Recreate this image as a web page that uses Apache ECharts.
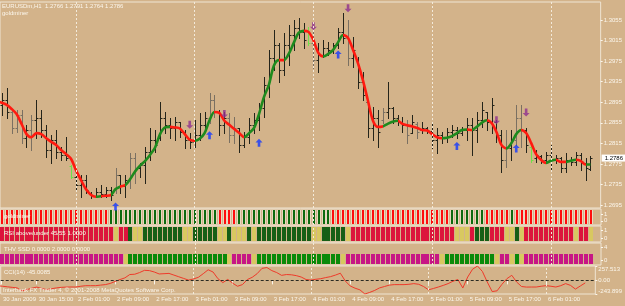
<!DOCTYPE html>
<html>
<head>
<meta charset="utf-8">
<script src="https://cdn.jsdelivr.net/npm/echarts@6/dist/echarts.min.js"></script>
<style>
html, body { margin: 0; padding: 0; background: #D3B38A; }
#main { width: 625px; height: 306px; }
</style>
</head>
<body>
<div id="main"></div>
<script>
// EURUSDm H1 – bars, trend MA, signals and three state panels + CCI
var chart = echarts.init(document.getElementById('main'));

var symbolText = 'EURUSDm,H1  1.2766 1.2791 1.2764 1.2786';
var dateLabels = ['30 Jan 2009', '30 Jan 15:00', '2 Feb 01:00', '2 Feb 09:00', '2 Feb 17:00', '3 Feb 01:00',
    '3 Feb 09:00', '3 Feb 17:00', '4 Feb 01:00', '4 Feb 09:00', '4 Feb 17:00', '5 Feb 01:00',
    '5 Feb 09:00', '5 Feb 17:00', '6 Feb 01:00'];
var labelBars = [0.7, 8, 16, 24, 32, 40, 48, 56, 64, 72, 80, 88, 96, 104, 112];
var daySeparators = [16, 40, 64, 88, 112];
var priceTicks = [1.2695, 1.2735, 1.2775, 1.2815, 1.2855, 1.2895, 1.2935, 1.2975, 1.3015, 1.3055];
var lastPrice = 1.2786;

var opens = [1.2899, 1.2890, 1.2899, 1.2876, 1.2845, 1.2870, 1.2825, 1.2841, 1.2860, 1.2864,
    1.2841, 1.2802, 1.2822, 1.2798, 1.2792, 1.2771, 1.2750, 1.2734, 1.2744, 1.2718,
    1.2713, 1.2720, 1.2716, 1.2724, 1.2724, 1.2753, 1.2732, 1.2744, 1.2787, 1.2767,
    1.2773, 1.2798, 1.2822, 1.2825, 1.2864, 1.2851, 1.2845, 1.2857, 1.2837, 1.2822,
    1.2818, 1.2831, 1.2851, 1.2864, 1.2899, 1.2876, 1.2851, 1.2864, 1.2831, 1.2845,
    1.2812, 1.2827, 1.2851, 1.2860, 1.2884, 1.2929, 1.2981, 1.3006, 1.2958, 1.3006,
    1.3026, 1.3040, 1.3032, 1.3036, 1.3010, 1.2977, 1.2987, 1.3001, 1.2997, 1.3006,
    1.3032, 1.3020, 1.2981, 1.2977, 1.2934, 1.2896, 1.2845, 1.2864, 1.2860, 1.2876,
    1.2884, 1.2864, 1.2857, 1.2851, 1.2835, 1.2853, 1.2841, 1.2845, 1.2839, 1.2822,
    1.2831, 1.2825, 1.2837, 1.2841, 1.2835, 1.2841, 1.2851, 1.2841, 1.2860, 1.2876,
    1.2857, 1.2857, 1.2831, 1.2783, 1.2806, 1.2822, 1.2864, 1.2841, 1.2808, 1.2787,
    1.2790, 1.2783, 1.2792, 1.2783, 1.2787, 1.2767, 1.2783, 1.2779, 1.2792, 1.2777,
    1.2766];
var highs = [1.2909, 1.2913, 1.2923, 1.2880, 1.2880, 1.2880, 1.2851, 1.2870, 1.2899, 1.2880,
    1.2851, 1.2831, 1.2841, 1.2808, 1.2827, 1.2773, 1.2757, 1.2753, 1.2753, 1.2720,
    1.2728, 1.2734, 1.2730, 1.2730, 1.2767, 1.2753, 1.2753, 1.2796, 1.2796, 1.2777,
    1.2808, 1.2845, 1.2841, 1.2896, 1.2876, 1.2864, 1.2866, 1.2857, 1.2841, 1.2835,
    1.2860, 1.2874, 1.2876, 1.2913, 1.2909, 1.2880, 1.2876, 1.2874, 1.2866, 1.2845,
    1.2837, 1.2864, 1.2874, 1.2894, 1.2944, 1.2997, 1.3036, 1.3010, 1.3030, 1.3045,
    1.3055, 1.3059, 1.3049, 1.3041, 1.3032, 1.3010, 1.3016, 1.3012, 1.3010, 1.3040,
    1.3069, 1.3055, 1.3022, 1.2983, 1.2954, 1.2899, 1.2886, 1.2880, 1.2884, 1.2934,
    1.2886, 1.2870, 1.2866, 1.2860, 1.2870, 1.2857, 1.2857, 1.2847, 1.2855, 1.2845,
    1.2837, 1.2845, 1.2851, 1.2847, 1.2847, 1.2864, 1.2864, 1.2876, 1.2896, 1.2876,
    1.2903, 1.2860, 1.2841, 1.2841, 1.2841, 1.2890, 1.2890, 1.2845, 1.2812, 1.2802,
    1.2792, 1.2798, 1.2812, 1.2792, 1.2788, 1.2796, 1.2788, 1.2798, 1.2796, 1.2787,
    1.2791];
var lows = [1.2876, 1.2870, 1.2864, 1.2835, 1.2837, 1.2816, 1.2808, 1.2802, 1.2825, 1.2827,
    1.2788, 1.2777, 1.2787, 1.2783, 1.2783, 1.2748, 1.2724, 1.2711, 1.2718, 1.2709,
    1.2711, 1.2711, 1.2711, 1.2705, 1.2718, 1.2718, 1.2711, 1.2728, 1.2738, 1.2750,
    1.2738, 1.2783, 1.2798, 1.2822, 1.2835, 1.2825, 1.2822, 1.2827, 1.2806, 1.2806,
    1.2808, 1.2822, 1.2837, 1.2855, 1.2866, 1.2831, 1.2835, 1.2818, 1.2816, 1.2798,
    1.2808, 1.2816, 1.2835, 1.2841, 1.2866, 1.2905, 1.2958, 1.2934, 1.2948, 1.2968,
    1.2997, 1.3020, 1.3001, 1.3006, 1.2962, 1.2954, 1.2983, 1.2987, 1.2991, 1.3001,
    1.3010, 1.2968, 1.2964, 1.2923, 1.2899, 1.2827, 1.2822, 1.2808, 1.2855, 1.2864,
    1.2855, 1.2851, 1.2837, 1.2816, 1.2835, 1.2825, 1.2835, 1.2835, 1.2806, 1.2796,
    1.2816, 1.2818, 1.2827, 1.2825, 1.2831, 1.2822, 1.2792, 1.2818, 1.2847, 1.2841,
    1.2835, 1.2818, 1.2759, 1.2769, 1.2783, 1.2812, 1.2808, 1.2798, 1.2779, 1.2779,
    1.2777, 1.2779, 1.2763, 1.2777, 1.2759, 1.2759, 1.2773, 1.2773, 1.2763, 1.2744,
    1.2764];
var closes = [1.2890, 1.2899, 1.2876, 1.2845, 1.2870, 1.2825, 1.2841, 1.2860, 1.2864, 1.2841,
    1.2802, 1.2822, 1.2798, 1.2792, 1.2787, 1.2750, 1.2734, 1.2744, 1.2724, 1.2713,
    1.2720, 1.2716, 1.2724, 1.2715, 1.2753, 1.2732, 1.2744, 1.2787, 1.2767, 1.2773,
    1.2798, 1.2822, 1.2812, 1.2864, 1.2851, 1.2845, 1.2857, 1.2837, 1.2822, 1.2818,
    1.2831, 1.2851, 1.2864, 1.2899, 1.2876, 1.2851, 1.2864, 1.2831, 1.2845, 1.2812,
    1.2827, 1.2851, 1.2860, 1.2884, 1.2929, 1.2981, 1.3006, 1.2958, 1.3006, 1.3026,
    1.3040, 1.3032, 1.3016, 1.3010, 1.2977, 1.2987, 1.3001, 1.2997, 1.3006, 1.3032,
    1.3020, 1.2981, 1.2997, 1.2934, 1.2909, 1.2845, 1.2864, 1.2837, 1.2876, 1.2884,
    1.2864, 1.2857, 1.2851, 1.2831, 1.2857, 1.2837, 1.2845, 1.2839, 1.2822, 1.2831,
    1.2825, 1.2837, 1.2841, 1.2835, 1.2841, 1.2851, 1.2841, 1.2860, 1.2880, 1.2857,
    1.2890, 1.2831, 1.2783, 1.2806, 1.2822, 1.2864, 1.2841, 1.2812, 1.2783, 1.2792,
    1.2783, 1.2792, 1.2783, 1.2787, 1.2767, 1.2783, 1.2779, 1.2792, 1.2777, 1.2767,
    1.2786];
var grayBars = [3, 4, 5, 7, 24, 27, 28, 43, 44, 47, 48, 64, 71, 78, 83, 85, 103, 105, 106];
var signalBars = [15, 63, 108];

var maLine = [1.2897, 1.2894, 1.2890, 1.2882, 1.2872, 1.2853, 1.2833, 1.2827, 1.2835, 1.2833,
    1.2825, 1.2818, 1.2812, 1.2802, 1.2794, 1.2785, 1.2763, 1.2744, 1.2726, 1.2715,
    1.2711, 1.2712, 1.2713, 1.2714, 1.2726, 1.2731, 1.2734, 1.2746, 1.2761, 1.2772,
    1.2781, 1.2793, 1.2807, 1.2833, 1.2846, 1.2847, 1.2846, 1.2844, 1.2833, 1.2822,
    1.2820, 1.2824, 1.2835, 1.2860, 1.2876, 1.2874, 1.2859, 1.2851, 1.2843, 1.2835,
    1.2827, 1.2835, 1.2845, 1.2872, 1.2905, 1.2929, 1.2966, 1.2977, 1.2977, 1.2989,
    1.3010, 1.3030, 1.3034, 1.3032, 1.3016, 1.2991, 1.2984, 1.2989, 1.2997, 1.3012,
    1.3026, 1.3020, 1.2997, 1.2971, 1.2938, 1.2899, 1.2860, 1.2847, 1.2848, 1.2853,
    1.2857, 1.2859, 1.2853, 1.2850, 1.2848, 1.2845, 1.2841, 1.2840, 1.2833, 1.2827,
    1.2825, 1.2826, 1.2829, 1.2835, 1.2841, 1.2842, 1.2841, 1.2847, 1.2855, 1.2860,
    1.2855, 1.2837, 1.2812, 1.2805, 1.2815, 1.2833, 1.2841, 1.2835, 1.2816, 1.2794,
    1.2783, 1.2777, 1.2781, 1.2783, 1.2779, 1.2779, 1.2781, 1.2783, 1.2781, 1.2774,
    1.2774];
// colour of each MA segment (bar i -> i+1), run-length
var maRuns = [['r', 20], ['g', 1], ['r', 2], ['g', 2], ['r', 1], ['g', 9], ['r', 5], ['g', 4], ['r', 6],
    ['g', 7], ['r', 1], ['g', 4], ['r', 4], ['g', 4], ['r', 8], ['g', 3], ['r', 9], ['g', 5], ['r', 1],
    ['g', 3], ['r', 4], ['g', 3], ['r', 5], ['g', 2], ['r', 2], ['g', 2], ['r', 2], ['g', 1]];

var sellArrows = [[39, 1.2851], [46, 1.2872], [64, 1.3043], [71, 1.3078], [101, 1.2860], [107, 1.2875]];
var buyArrows = [[24, 1.2692], [43, 1.2831], [53, 1.2816], [69, 1.2988], [93, 1.2810], [105, 1.2805]];

var goldRuns = [['r', 23], ['g', 22], ['r', 4], ['g', 19], ['r', 24], ['g', 7], ['r', 5], ['g', 1], ['r', 16]];
var rsiRuns = [['r', 24], ['y', 1], ['r', 2], ['g', 1], ['y', 2], ['g', 8], ['y', 2], ['g', 5], ['y', 2],
    ['g', 1], ['y', 3], ['g', 1], ['y', 1], ['g', 11], ['y', 2], ['g', 5], ['y', 1], ['r', 21], ['y', 3],
    ['r', 1], ['g', 3], ['r', 3], ['y', 2], ['g', 1], ['y', 1], ['r', 10], ['y', 1], ['r', 2], ['y', 1]];
var thvRuns = [['m', 26], ['y', 1], ['g', 20], ['y', 1], ['m', 4], ['y', 1], ['g', 17], ['y', 1], ['m', 19],
    ['y', 1], ['g', 10], ['y', 1], ['m', 2], ['y', 1], ['g', 1], ['y', 1], ['m', 14]];

var cci = [-95, -105, -115, -125, -135, -190, -165, -140, -120, -145,
    -165, -150, -135, -125, -120, -118, -119, -105, -95, -95,
    -95, -85, -76, -55, -20, 15, 45, 105, 110, 140,
    180, 175, 150, 115, 120, 125, 95, 65, 35, 5,
    25, 55, 120, 190, 150, 30, -40, 17, -50, -105,
    -76, 15, 55, 120, 215, 230, 175, 140, 90, 105,
    100, 85, 60, 15, 5, 20, 30, 50, 67, 95,
    128, -10, -100, -140, -170, -243.899, -215, -180, -135, -110,
    -85, -76, -76, -76, -70, -58, -70, -110, -169, -145,
    -119, -90, -58, -15, 15, -137, 60, 200, 257.513, 160,
    -30, -200, -187, -70, 30, 91, -30, -110, -120, -119,
    -119, -105, -95, -105, -119, -95, -58, -90, -156, -100,
    -45.0085];

function expand(runs) {
    var out = [];
    runs.forEach(function (r) {
        for (var k = 0; k < r[1]; k++) out.push(r[0]);
    });
    return out;
}

var XMIN = 0.646, XMAX = 122.06;
var textColor = '#FBF6EC';
var frameColor = '#EFE5D3';
var font = 'Liberation Sans';

var barColors = ['#24241A', '#7A7062', '#6FE04A'];
var ohlcData = opens.map(function (o, i) {
    var kind = signalBars.indexOf(i) >= 0 ? 2 : (grayBars.indexOf(i) >= 0 ? 1 : 0);
    return [i, o, highs[i], lows[i], closes[i], kind];
});

var maPieces = [];
var pos = 0;
maRuns.forEach(function (r, k) {
    var piece = { gte: pos, color: r[0] === 'r' ? '#FF1A10' : '#1E8A1E' };
    if (k < maRuns.length - 1) piece.lt = pos + r[1];
    maPieces.push(piece);
    pos += r[1];
});

function separatorMarks() {
    return {
        symbol: 'none', silent: true, animation: false,
        label: { show: false },
        lineStyle: { color: '#F3EADA', width: 1, type: [2, 2] },
        data: daySeparators.map(function (d) { return { xAxis: d }; })
    };
}

function makeBand(gridIdx, runs, palette, topValue, stripe) {
    var states = expand(runs);
    return {
        type: 'custom', xAxisIndex: gridIdx, yAxisIndex: gridIdx, clip: true, silent: true,
        data: states.map(function (s, i) { return [i, 0]; }),
        encode: { x: 0, y: 1 },
        renderItem: function (params, api) {
            var i = api.value(0);
            var cs = params.coordSys;
            var cx = api.coord([i, 0])[0];
            var top = topValue == null ? cs.y + 1 : Math.round(api.coord([i, topValue])[1]);
            var bottom = cs.y + cs.height - 1;
            var left = Math.round(cx - 2);
            var col = palette[states[i]];
            if (stripe) {
                return {
                    type: 'group', children: [
                        { type: 'rect', shape: { x: left, y: top, width: 4, height: bottom - top }, style: { fill: '#E8D8C0' } },
                        { type: 'rect', shape: { x: left + 1, y: top, width: 2, height: bottom - top }, style: { fill: col } }
                    ]
                };
            }
            return { type: 'rect', shape: { x: left, y: top, width: 4, height: bottom - top }, style: { fill: col } };
        },
        markLine: separatorMarks()
    };
}

function xAx(idx) {
    var ax = {
        type: 'value', gridIndex: idx, min: XMIN, max: XMAX,
        axisLine: { show: false }, axisTick: { show: false },
        splitLine: { show: false }, axisLabel: { show: false }
    };
    if (idx === 4) {
        ax.axisTick = { show: true, customValues: labelBars, length: 4, lineStyle: { color: textColor } };
        ax.axisLabel = {
            show: true, customValues: labelBars, align: 'left', margin: 2,
            padding: [0, 0, 0, 2], color: textColor, fontSize: 6, fontFamily: font,
            formatter: function (v) { return dateLabels[labelBars.indexOf(v)] || ''; }
        };
    }
    return ax;
}

function yAx(idx, min, max, ticks, fmt) {
    return {
        type: 'value', gridIndex: idx, position: 'right', min: min, max: max,
        axisLine: { show: false }, splitLine: { show: false },
        axisTick: { show: true, customValues: ticks, length: 2, lineStyle: { color: textColor } },
        axisLabel: {
            customValues: ticks, margin: 3, color: textColor, fontSize: 6, fontFamily: font,
            formatter: fmt,
            verticalAlignMaxLabel: idx === 4 ? 'top' : null,
            verticalAlignMinLabel: idx === 4 ? 'bottom' : null
        }
    };
}

function gridBox(top, height) {
    return { left: 0, top: top, width: 601, height: height, show: true, borderColor: frameColor, borderWidth: 1, backgroundColor: 'transparent' };
}

function caption(x, y, text) {
    return {
        type: 'text', x: x, y: y, z: 100, silent: true,
        style: { text: text, fill: textColor, font: '6px "' + font + '"', verticalAlign: 'middle' }
    };
}

var upArrow = 'path://M4,0 L8,4 L5.5,4 L5.5,9 L2.5,9 L2.5,4 L0,4 Z';
var downArrow = 'path://M2.5,0 L5.5,0 L5.5,5 L8,5 L4,9 L0,5 L2.5,5 Z';

var option = {
    backgroundColor: '#D3B38A',
    animation: false,
    grid: [gridBox(2, 206), gridBox(209, 16), gridBox(226, 16), gridBox(243, 22), gridBox(266, 28)],
    xAxis: [xAx(0), xAx(1), xAx(2), xAx(3), xAx(4)],
    yAxis: [
        yAx(0, 1.26892, 1.30901, priceTicks, function (v) { return v.toFixed(4); }),
        yAx(1, -0.6, 1.7, [0, 1], function (v) { return String(v); }),
        yAx(2, -0.5, 1.5, [0, 1], function (v) { return String(v); }),
        yAx(3, -1.32, 5.45, [0, 4], function (v) { return String(v); }),
        yAx(4, -243.899, 257.513, [-243.899, 0, 257.513], function (v) { return v === 0 ? '0.00' : v.toFixed(3); })
    ],
    visualMap: [{ show: false, type: 'piecewise', seriesIndex: 1, dimension: 0, pieces: maPieces }],
    graphic: [
        caption(2, 6, symbolText),
        caption(2, 13, 'goldminer'),
        caption(4, 216, 'goldminer'),
        caption(4, 233, 'RSI above/under 45/55 1.0000'),
        caption(4, 249, 'THV SSD 0.0000 2.0000 0.0000'),
        caption(4, 272, 'CCI(14) -45.0085'),
        caption(3, 290, 'Interbank FX Trader 4, \u00a9 2001-2008 MetaQuotes Software Corp.')
    ],
    series: [
        {
            type: 'custom', xAxisIndex: 0, yAxisIndex: 0, clip: true, silent: true,
            data: ohlcData,
            encode: { x: 0, y: [1, 2, 3, 4] },
            renderItem: function (params, api) {
                var i = api.value(0);
                var h = api.coord([i, api.value(2)]);
                var l = api.coord([i, api.value(3)]);
                var o = api.coord([i, api.value(1)]);
                var c = api.coord([i, api.value(4)]);
                var x = Math.round(h[0]) + 0.5;
                var col = barColors[api.value(5)];
                var oy = Math.round(o[1]) + 0.5, cy = Math.round(c[1]) + 0.5;
                return {
                    type: 'group', children: [
                        { type: 'line', shape: { x1: x, y1: Math.round(h[1]), x2: x, y2: Math.round(l[1]) + 1 }, style: { stroke: col, lineWidth: 1 } },
                        { type: 'line', shape: { x1: x - 2, y1: oy, x2: x, y2: oy }, style: { stroke: col, lineWidth: 1 } },
                        { type: 'line', shape: { x1: x, y1: cy, x2: x + 2, y2: cy }, style: { stroke: col, lineWidth: 1 } }
                    ]
                };
            },
            markLine: separatorMarks()
        },
        {
            type: 'line', xAxisIndex: 0, yAxisIndex: 0, z: 3, silent: true,
            data: maLine.map(function (v, i) { return [i, v]; }),
            smooth: 0.3, showSymbol: false,
            lineStyle: { width: 2.6 }
        },
        {
            type: 'scatter', xAxisIndex: 0, yAxisIndex: 0, z: 4, silent: true,
            data: sellArrows, symbol: downArrow, symbolSize: [7, 8],
            itemStyle: { color: '#8E2F8E' }
        },
        {
            type: 'scatter', xAxisIndex: 0, yAxisIndex: 0, z: 4, silent: true,
            data: buyArrows, symbol: upArrow, symbolSize: [7, 8],
            itemStyle: { color: '#1438FF' },
            markLine: {
                symbol: 'none', silent: true, animation: false,
                lineStyle: { color: 'rgba(0,0,0,0)', width: 1 },
                label: {
                    show: true, position: 'end', distance: 1, offset: [0, 7], formatter: '1.2786',
                    backgroundColor: '#FFFFFF', color: '#000000', fontSize: 6, fontFamily: font, padding: [1, 4, 0, 3]
                },
                data: [{ yAxis: lastPrice }]
            }
        },
        makeBand(1, goldRuns, { r: '#FF0D0D', g: '#0E6A0E' }, null, true),
        makeBand(2, rsiRuns, { r: '#DC143C', y: '#D8C860', g: '#165F16' }, null, false),
        makeBand(3, thvRuns, { m: '#C71585', y: '#D8C860', g: '#0A8A0A' }, 2, false),
        {
            type: 'line', xAxisIndex: 4, yAxisIndex: 4, silent: true,
            data: cci.map(function (v, i) { return [i, v]; }),
            showSymbol: false,
            lineStyle: { color: '#EE3A2A', width: 1 },
            markLine: {
                symbol: 'none', silent: true, animation: false, label: { show: false },
                data: daySeparators.map(function (d) {
                    return { xAxis: d, lineStyle: { color: '#F3EADA', width: 1, type: [2, 2] } };
                }).concat([{ yAxis: 0, lineStyle: { color: '#2A2A22', width: 1, type: [3, 2] } }])
            }
        }
    ]
};

chart.setOption(option);
</script>
</body>
</html>
